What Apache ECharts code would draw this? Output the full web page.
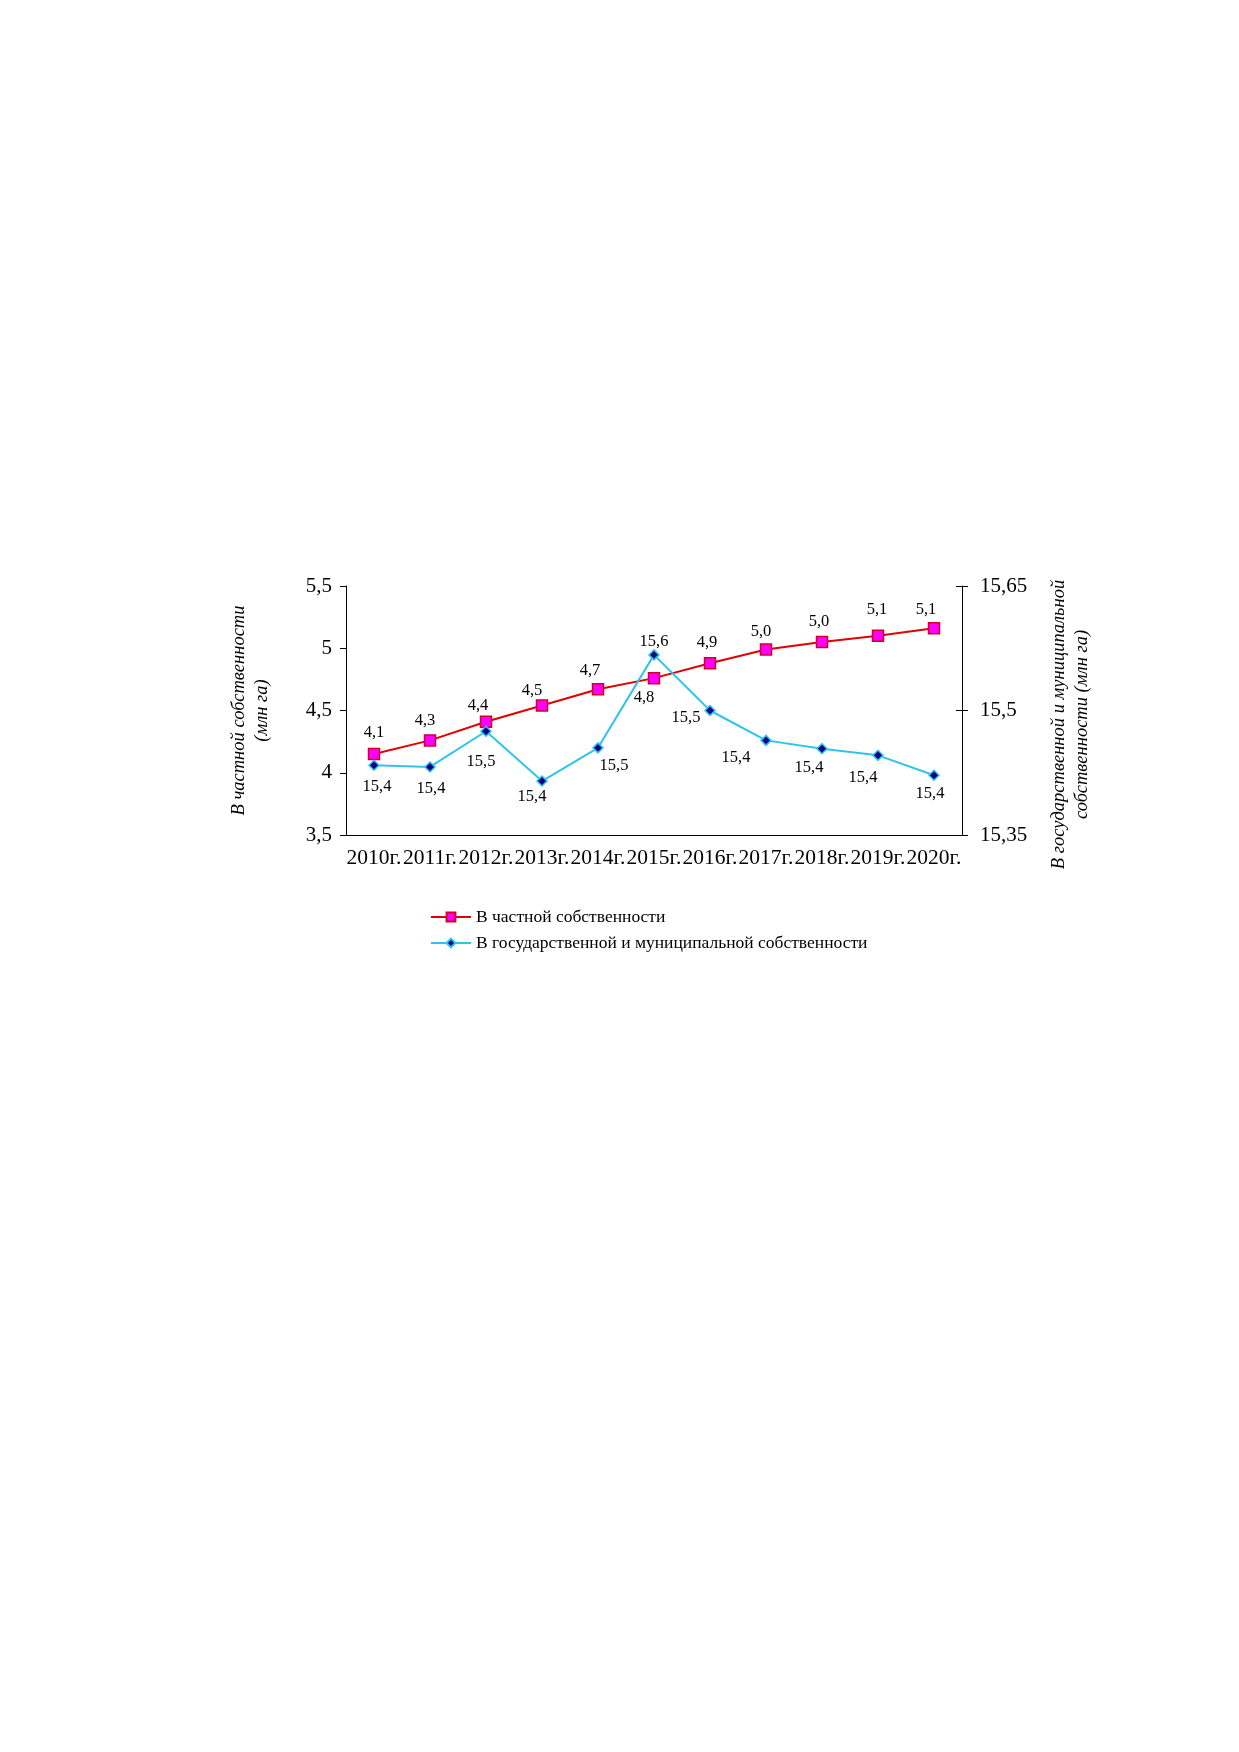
<!DOCTYPE html>
<html>
<head>
<meta charset="utf-8">
<script src="https://cdn.jsdelivr.net/npm/echarts@6/dist/echarts.min.js"></script>
<style>
  html, body { margin: 0; padding: 0; background: #fff; }
  #main { width: 1239px; height: 1752px; }
</style>
</head>
<body>
<div id="main"></div>
<script>
var years = ['2010г.', '2011г.', '2012г.', '2013г.', '2014г.', '2015г.', '2016г.', '2017г.', '2018г.', '2019г.', '2020г.'];
var privateOwn = [4.15, 4.26, 4.41, 4.54, 4.67, 4.76, 4.88, 4.99, 5.05, 5.10, 5.16];
var privateLabels = ['4,1', '4,3', '4,4', '4,5', '4,7', '4,8', '4,9', '5,0', '5,0', '5,1', '5,1'];
var stateOwn = [15.434, 15.432, 15.475, 15.415, 15.455, 15.567, 15.50, 15.464, 15.454, 15.446, 15.422];
var stateLabels = ['15,4', '15,4', '15,5', '15,4', '15,5', '15,6', '15,5', '15,4', '15,4', '15,4', '15,4'];

// смещения подписей относительно маркеров
var privateOffsets = [[0, -21], [-5, -20], [-8, -16], [-10, -15], [-8, -19], [-10, 20], [-3, -21], [-5, -18], [-3, -20], [-1, -26], [-8, -19]];
var stateOffsets = [[3, 21], [1, 22], [-5, 30], [-10, 16], [16, 18], [0, -13], [-24, 7], [-30, 17], [-13, 19], [-15, 22], [-4, 18]];

var font = 'Liberation Serif';

function comma(v) {
    return String(parseFloat(v.toFixed(2))).replace('.', ',');
}

function withLabels(values, labels, offsets) {
    return values.map(function (v, i) {
        return {
            value: v,
            label: { formatter: labels[i], offset: offsets[i] }
        };
    });
}

var nameStyle = { fontFamily: font, fontStyle: 'italic', fontSize: 18.5, color: '#000', lineHeight: 23 };
var tickLabel = { color: '#000', fontFamily: font, fontSize: 21 };

var myChart = echarts.init(document.getElementById('main'));

var option = {
    backgroundColor: '#fff',
    animation: false,
    grid: { left: 346, right: 277, top: 586, bottom: 917 },
    legend: {
        orient: 'vertical',
        left: 425,
        top: 903,
        itemWidth: 40,
        itemHeight: 11,
        itemGap: 8,
        textStyle: { fontFamily: font, fontSize: 17.5, color: '#000' },
        data: ['В частной собственности', 'В государственной и муниципальной собственности']
    },
    xAxis: [{
        type: 'category',
        data: years,
        boundaryGap: true,
        axisLine: { lineStyle: { color: '#000', width: 1 } },
        axisTick: { length: 6, lineStyle: { color: '#000' } },
        axisLabel: Object.assign({ margin: 12, interval: 0 }, tickLabel, { fontSize: 21.5 })
    }, {
        // вторые штрихи внутрь — штрихи пересекают ось
        type: 'category',
        data: years,
        boundaryGap: true,
        position: 'bottom',
        axisLine: { show: false },
        axisTick: { inside: true, length: 6, lineStyle: { color: '#000' } },
        axisLabel: { show: false }
    }],
    yAxis: [{
        type: 'value',
        min: 3.5,
        max: 5.5,
        interval: 0.5,
        name: 'В частной собственности\n(млн га)',
        nameLocation: 'middle',
        nameRotate: 90,
        nameGap: 72,
        nameTextStyle: nameStyle,
        splitLine: { show: false },
        axisLine: { show: true, lineStyle: { color: '#000' } },
        axisTick: { show: true, length: 6, lineStyle: { color: '#000' } },
        axisLabel: Object.assign({ margin: 14, formatter: comma }, tickLabel)
    }, {
        type: 'value',
        min: 15.35,
        max: 15.65,
        interval: 0.15,
        name: 'В государственной и муниципальной\nсобственности (млн га)',
        nameLocation: 'middle',
        nameRotate: 90,
        nameGap: 86,
        nameTextStyle: Object.assign({}, nameStyle, { padding: [0, 28, 0, 0] }),
        splitLine: { show: false },
        axisLine: { show: true, lineStyle: { color: '#000' } },
        axisTick: { show: true, length: 6, lineStyle: { color: '#000' } },
        axisLabel: Object.assign({ margin: 18, formatter: comma }, tickLabel)
    }, {
        type: 'value',
        min: 15.35,
        max: 15.65,
        interval: 0.15,
        position: 'right',
        splitLine: { show: false },
        axisLine: { show: false },
        axisTick: { show: true, inside: true, length: 6, lineStyle: { color: '#000' } },
        axisLabel: { show: false }
    }],
    series: [{
        name: 'В частной собственности',
        type: 'line',
        yAxisIndex: 0,
        data: withLabels(privateOwn, privateLabels, privateOffsets),
        symbol: 'rect',
        symbolSize: 11,
        lineStyle: { color: '#E00000', width: 2 },
        itemStyle: { color: '#FF00FF', borderColor: '#D0002A', borderWidth: 1.5 },
        label: { show: true, position: 'inside', color: '#000', fontFamily: font, fontSize: 16.5 },
        z: 2
    }, {
        name: 'В государственной и муниципальной собственности',
        type: 'line',
        yAxisIndex: 1,
        data: withLabels(stateOwn, stateLabels, stateOffsets),
        symbol: 'diamond',
        symbolSize: 10,
        lineStyle: { color: '#2EC4EC', width: 2 },
        itemStyle: { color: '#000080', borderColor: '#2EC4EC', borderWidth: 1.5 },
        label: { show: true, position: 'inside', color: '#000', fontFamily: font, fontSize: 16.5 },
        z: 3
    }]
};

myChart.setOption(option);
</script>
</body>
</html>
